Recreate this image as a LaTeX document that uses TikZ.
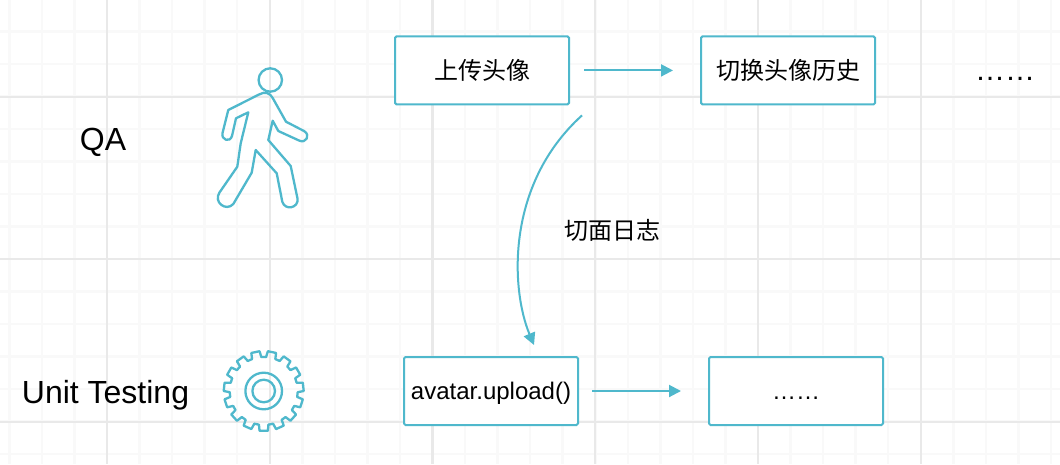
\documentclass[tikz,border=0pt]{standalone}
\usepackage{fontspec}
\setmainfont{Liberation Sans}
\newfontfamily\cjk{Noto Sans CJK SC}
\usepackage{tikz}
\usetikzlibrary{arrows.meta}
\definecolor{flowblue}{HTML}{4FB8CC}
\definecolor{gridmajor}{HTML}{E9E9E9}
\definecolor{gridminor}{HTML}{F9F9F9}
\tikzset{
  stepbox/.style={draw=flowblue, line width=2pt, rounded corners=1.5pt, fill=white, minimum width=174pt, minimum height=68pt, inner sep=0pt, font=\fontsize{24}{28}\selectfont},
  flow/.style={draw=flowblue, line width=2pt, -{Triangle[length=12pt,width=12pt]}},
  icon/.style={draw=flowblue, line width=2.3pt, line join=round, line cap=round},
  rowlabel/.style={inner sep=0pt, font=\fontsize{32}{36}\selectfont}
}
\begin{document}
\begin{tikzpicture}[x=1pt, y=-1pt]
  \useasboundingbox (0,0) rectangle (1060,464);
  \fill[white] (0,0) rectangle (1060,464);
  % grade de fundo
  \foreach \k [evaluate=\k as \gx using 107+32.55*\k] in {-3,...,29}
    \draw[gridminor, line width=2.5pt] (\gx,0) -- (\gx,464);
  \foreach \k [evaluate=\k as \gy using 96.7+32.5*\k] in {-2,...,11}
    \draw[gridminor, line width=2.5pt] (0,\gy) -- (1060,\gy);
  \foreach \k [evaluate=\k as \gx using 107+162.75*\k] in {0,...,5}
    \draw[gridmajor, line width=2.2pt] (\gx,0) -- (\gx,464);
  \foreach \k [evaluate=\k as \gy using 96.7+162.5*\k] in {0,1,2}
    \draw[gridmajor, line width=2.2pt] (0,\gy) -- (1060,\gy);
  % rotulos das linhas
  \node[rowlabel] (qa) at (103,142) {QA};
  \node[rowlabel] (unit) at (105.5,395) {Unit Testing};
  % caminhante
  \draw[icon] (270.3,80) circle (11.7);
  \draw[icon] (272.7,98) .. controls (270,93) and (265,91) .. (259,94.5)
    -- (228.3,110) -- (222.5,133) .. controls (221,140) and (230,143) .. (232,136)
    -- (236,118.3) -- (248.3,112.3) -- (240.7,143.3) -- (237.3,166.7) -- (219.5,192.5)
    .. controls (213,202) and (226,212) .. (233.3,204) -- (251.7,172.7) -- (255.7,150)
    -- (276.7,173.3) -- (282.3,201.7) .. controls (285,211) and (299,208) .. (297.5,198.5)
    -- (290.7,166) -- (268.3,140) -- (272.7,120.7) -- (278.3,131) -- (299,140.5)
    .. controls (306,144) and (311,135) .. (304,131) -- (286,121.7) -- cycle;
  % engrenagem
  \draw[icon] (263.7,391) circle (18.3);
  \draw[icon] (263.7,391) circle (11.3);
  \begin{scope}[shift={(263.7,391)}]
    \foreach \ang in {90,114,...,426}
      \draw[icon] (\ang-8:34) -- (\ang-6:40) -- (\ang+6:40) -- (\ang+8:34) -- (\ang+16:34);
  \end{scope}
  % caixas
  \node[stepbox] (upload) at (482,70.4) {\cjk 上传头像};
  \node[stepbox] (history) at (788,70.4) {\cjk 切换头像历史};
  \node[stepbox] (call) at (491,391) {\raisebox{-2pt}[\height][\depth]{avatar.upload()}};
  \node[stepbox] (rest) at (796,391) {\raisebox{-7pt}[\height][\depth]{……}};
  \node[inner sep=0pt, font=\fontsize{30}{34}\selectfont] (more) at (1005,79) {……};
  \node[inner sep=0pt, font=\fontsize{24}{28}\selectfont\cjk] (aspect) at (612,230) {切面日志};
  % setas
  \draw[flow] ([xshift=14pt]upload.east) -- ([xshift=-27pt]history.west);
  \draw[flow] ([xshift=13pt]call.east) -- ([xshift=-27pt]rest.west);
  \draw[flow] ([xshift=12pt,yshift=-10pt]upload.south east) .. controls (505,185) and (511,290) .. ([xshift=43pt,yshift=11pt]call.north);
\end{tikzpicture}
\end{document}
